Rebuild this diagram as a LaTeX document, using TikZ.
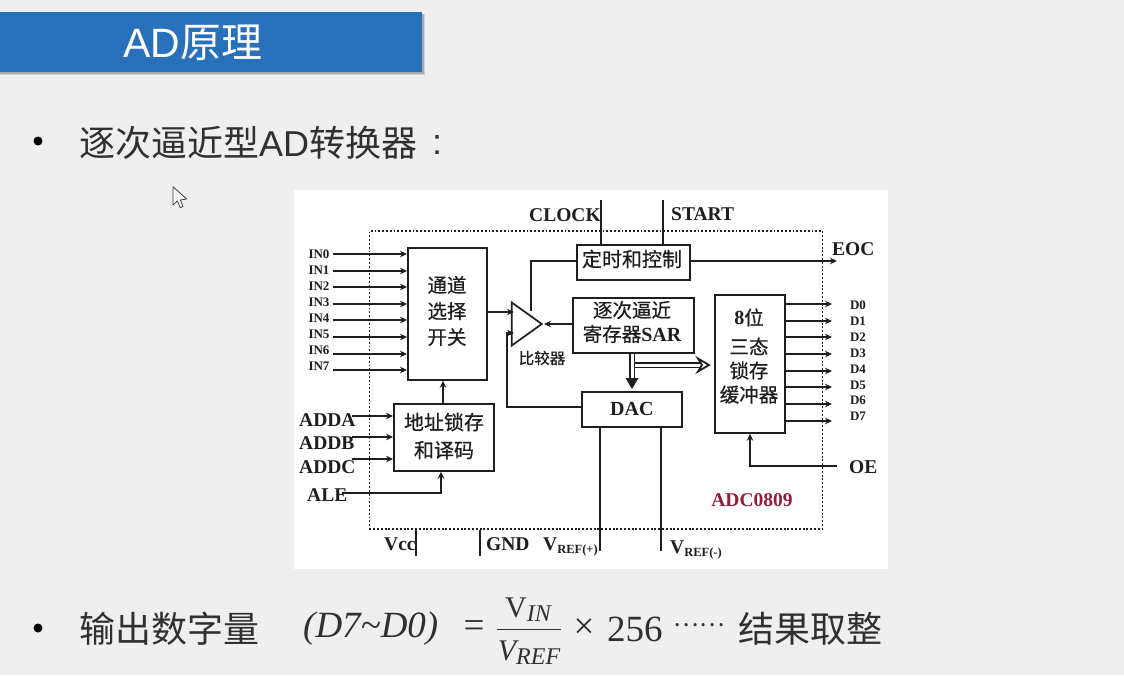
\documentclass[tikz,border=0pt]{standalone}
\usepackage{fontspec}
\setmainfont{Liberation Serif}
\newfontfamily\cjk{Noto Sans CJK SC}
\newfontfamily\cjkb{Noto Sans CJK SC}[FakeBold=0.6]
\newfontfamily\lsans{Liberation Sans}
\newcommand{\latb}{\normalfont\bfseries\fontsize{20}{20}\selectfont}
\usetikzlibrary{arrows.meta,shapes.geometric,calc}
\definecolor{slidebg}{HTML}{EFEFEF}
\definecolor{barblue}{HTML}{2870BA}
\definecolor{ink}{HTML}{1E1E1E}
\definecolor{slideink}{HTML}{303030}
\definecolor{adcred}{HTML}{8E1F3B}
\tikzset{
  x=1pt,y=-1pt,
  wire/.style={draw=ink,line width=1.7pt},
  arr/.style={wire,-{Stealth[length=7pt,width=6.5pt]}},
  blockbox/.style={draw=ink,line width=1.7pt,fill=white,anchor=north west,inner sep=0pt},
  cn/.style={font=\cjkb\fontsize{19.5}{26}\selectfont,text=ink,align=center,inner sep=0pt},
  lab/.style={font=\bfseries\fontsize{19.5}{19.5}\selectfont,text=ink,inner sep=0pt},
  smalllab/.style={font=\bfseries\fontsize{13}{13}\selectfont,text=ink,inner sep=0pt},
  slidetxt/.style={font=\cjk\fontsize{36}{36}\selectfont,text=slideink,inner sep=0pt,anchor=west},
  mathtxt/.style={font=\fontsize{37}{37}\selectfont,text=slideink,inner sep=0pt},
  dotb/.style={circle,fill=black,inner sep=0pt,minimum size=9pt},
}
\begin{document}
\begin{tikzpicture}
\useasboundingbox (0,0) rectangle (1124,675);
\fill[slidebg] (0,0) rectangle (1124,675);
% title bar
\fill[black,opacity=.12] (0,14) rectangle (425,75);
\fill[black,opacity=.18] (0,14) rectangle (424,74);
\node[fill=barblue,draw=none,anchor=north west,minimum width=422pt,minimum height=60pt,inner sep=0pt] (bar) at (0,12) {};
\node[font=\cjk\fontsize{41}{41}\selectfont,text=white,inner sep=0pt,anchor=west] (title) at (123,43) {{\lsans AD}原理};
% bullets
\node[dotb] (b1) at (38,141) {};
\node[slidetxt] (t1) at (79,143) {逐次逼近型{\lsans AD}转换器};
\node[font=\lsans\fontsize{36}{36}\selectfont,text=slideink,inner sep=0pt] (t1c) at (437,145) {:};
\node[dotb] (b2) at (38,628) {};
\node[slidetxt] (t2) at (79,629) {输出数字量};
% formula
\node[mathtxt,anchor=west] (lhs) at (303,629) {\itshape (D7\symbol{126}D0)};
\node[mathtxt,anchor=center] (eq) at (474,629) {=};
\node[inner sep=0pt,text=slideink,font=\fontsize{30}{30}\selectfont] (vin) at (528,610) {V\raisebox{-4pt}{\itshape\fontsize{24}{24}\selectfont IN}};
\node[inner sep=0pt,text=slideink,font=\itshape\fontsize{30}{30}\selectfont] (vref) at (529,653) {V\raisebox{-4pt}{\fontsize{24}{24}\selectfont REF}};
\draw[draw=slideink,line width=1.3pt] (497,629.5) -- (561,629.5);
\node[mathtxt] (times) at (584,629) {\symbol{"D7}};
\node[mathtxt,anchor=west] (num) at (607,629) {256};
\node[font=\cjk\fontsize{24}{24}\selectfont,text=slideink,inner sep=0pt] (dots) at (699,625) {……};
\node[slidetxt,anchor=east] (t3) at (883,629) {结果取整};
% cursor
\draw[fill=slidebg!60!white,draw=black!75,line width=.8pt,line join=round] (173,186.7) -- (173,205) -- (177.3,201) -- (180.3,207.7) -- (183,206.3) -- (180.3,200) -- (186.7,199) -- cycle;
% picture panel
\node[fill=white,anchor=north west,minimum width=594pt,minimum height=379pt,inner sep=0pt] (panel) at (294,190) {};
% dotted frame
\node[draw=ink,line width=1.9pt,dash pattern=on 1.9pt off 1.9pt,anchor=north west,minimum width=453pt,minimum height=298pt,inner sep=0pt] (frame) at (368.5,230) {};
% blocks
\node[blockbox,minimum width=79pt,minimum height=132pt] (sel) at (407,247) {};
\node[cn] (selt) at (447,311) {通道\\选择\\开关};
\node[blockbox,minimum width=100pt,minimum height=67pt] (addr) at (393,403) {};
\node[cn,font=\cjkb\fontsize{20}{28}\selectfont] (addrt) at (444,436) {地址锁存\\和译码};
\node[blockbox,minimum width=113pt,minimum height=35pt] (ctrl) at (576,244) {};
\node[cn,font=\cjkb\fontsize{20}{20}\selectfont] (ctrlt) at (632,259) {定时和控制};
\node[blockbox,minimum width=121pt,minimum height=55pt] (sar) at (572,297) {};
\node[cn,font=\cjkb\fontsize{19.5}{24}\selectfont] (sart) at (632,322) {逐次逼近\\寄存器{\latb SAR}};
\node[blockbox,minimum width=100pt,minimum height=35pt,font=\latb,text=ink] (dac) at (581,391) {DAC};
\node[blockbox,minimum width=70pt,minimum height=138pt] (buf) at (714,294) {};
\node[cn,font=\cjkb\fontsize{19.5}{24}\selectfont] (buft) at (749,356) {{\latb 8}位\\[5pt]三态\\锁存\\缓冲器};
\node[draw=ink,line width=1.7pt,fill=white,isosceles triangle,isosceles triangle stretches,shape border rotate=0,inner sep=0pt,minimum width=43pt,minimum height=30pt,anchor=apex] (cmp) at (544,324) {};
\node[font=\cjkb\fontsize{15.5}{15.5}\selectfont,text=ink,inner sep=0pt] (cmplab) at (542,358) {比较器};
% inputs
\foreach \n/\ly/\ty in {0/254/254,1/271/270,2/287/286,3/304/302,4/320/318,5/337/334,6/354/350,7/370/366}{
  \node[smalllab] (in\n) at (319,\ty) {IN\n};
  \coordinate (ie\n) at (333,\ly);
  \draw[arr] (ie\n) -- (ie\n -| sel.west);
}
% outputs
\foreach \n/\ly/\ty in {0/304/305,1/321/321,2/337/337,3/354/353,4/371/369,5/387/385,6/404/400,7/421/416}{
  \node[smalllab] (d\n) at (858,\ty) {D\n};
  \coordinate (oe\n) at (832,\ly);
  \draw[arr] (oe\n -| buf.east) -- (oe\n);
}
% address lines
\node[lab,anchor=west] (adda) at (299,420) {ADDA};
\node[lab,anchor=west] (addb) at (299,443) {ADDB};
\node[lab,anchor=west] (addc) at (299,467) {ADDC};
\node[lab,anchor=west] (ale) at (307,495) {ALE};
\coordinate (ca) at (352,416);
\coordinate (cb) at (352,437);
\coordinate (cc) at (352,459);
\coordinate (cl) at (342,493);
\coordinate (up) at (441,493);
\draw[arr] (ca) -- (ca -| addr.west);
\draw[arr] (cb) -- (cb -| addr.west);
\draw[arr] (cc) -- (cc -| addr.west);
\draw[arr] (cl) -- (up) -- (up |- addr.south);
\coordinate (selx) at (443,391);
\draw[arr] (selx |- addr.north) -- (selx |- sel.south);
% comparator wires
\coordinate (ci1) at (514,312);
\coordinate (ci2) at (514,333);
\coordinate (cd) at (507,407);
\coordinate (co) at (531,311);
\coordinate (cu) at (531,261);
\draw[arr] (ci1 -| sel.east) -- (ci1);
\draw[arr] (cd -| dac.west) -- (cd) -- (cd |- ci2) -- (ci2);
\draw[wire] (co) -- (cu) -- (cu -| ctrl.west);
\draw[arr] (sar.west |- cmp.apex) -- (cmp.apex);
% control wires
\node[lab,anchor=west] (clock) at (529,215) {CLOCK};
\node[lab,anchor=west] (start) at (671,214) {START};
\node[lab,anchor=west] (eoc) at (832,249) {EOC};
\coordinate (clk) at (601,200);
\coordinate (sta) at (663,200);
\coordinate (eo) at (837,261);
\draw[wire] (clk) -- (clk |- ctrl.north);
\draw[wire] (sta) -- (sta |- ctrl.north);
\draw[arr] (eo -| ctrl.east) -- (eo);
% double arrows
\coordinate (vx) at (632,380);
\coordinate (hs) at (635,365);
\draw[draw=ink,double=white,double distance=3pt,line width=1.7pt] (vx |- sar.south) -- (632,381);
\fill[ink] (625.5,378) -- (638.5,378) -- (632,389) -- cycle;
\draw[draw=ink,double=white,double distance=3pt,line width=1.7pt] (hs) -- (703,365);
\draw[draw=ink,line width=1.8pt,fill=white,line join=miter] (698,358.5) -- (709,365) -- (698,371.5) -- (702,365) -- cycle;
% power and reference lines
\coordinate (vp) at (600,551);
\coordinate (vm) at (661,551);
\coordinate (vccb) at (416,556);
\coordinate (gndb) at (480,556);
\draw[wire] (vp |- dac.south) -- (vp);
\draw[wire] (vm |- dac.south) -- (vm);
\draw[wire] (vccb |- frame.south) -- (vccb);
\draw[wire] (gndb |- frame.south) -- (gndb);
\node[lab,anchor=west] (vcc) at (384,544) {Vcc};
\node[lab,anchor=west] (gnd) at (486,544) {GND};
\node[lab,anchor=base west] (vrp) at (543,550) {V\raisebox{-3.5pt}{\fontsize{12.5}{12.5}\selectfont REF(+)}};
\node[lab,anchor=base west] (vrm) at (670,553) {V\raisebox{-3.5pt}{\fontsize{12.5}{12.5}\selectfont REF(-)}};
% OE
\node[lab,anchor=west] (oe) at (849,467) {OE};
\coordinate (oes) at (837,466);
\coordinate (oet) at (750,466);
\draw[arr] (oes) -- (oet) -- (oet |- buf.south);
\node[font=\bfseries\fontsize{19.5}{19.5}\selectfont,text=adcred,inner sep=0pt] (adc) at (752,500) {ADC0809};
\end{tikzpicture}
\end{document}
